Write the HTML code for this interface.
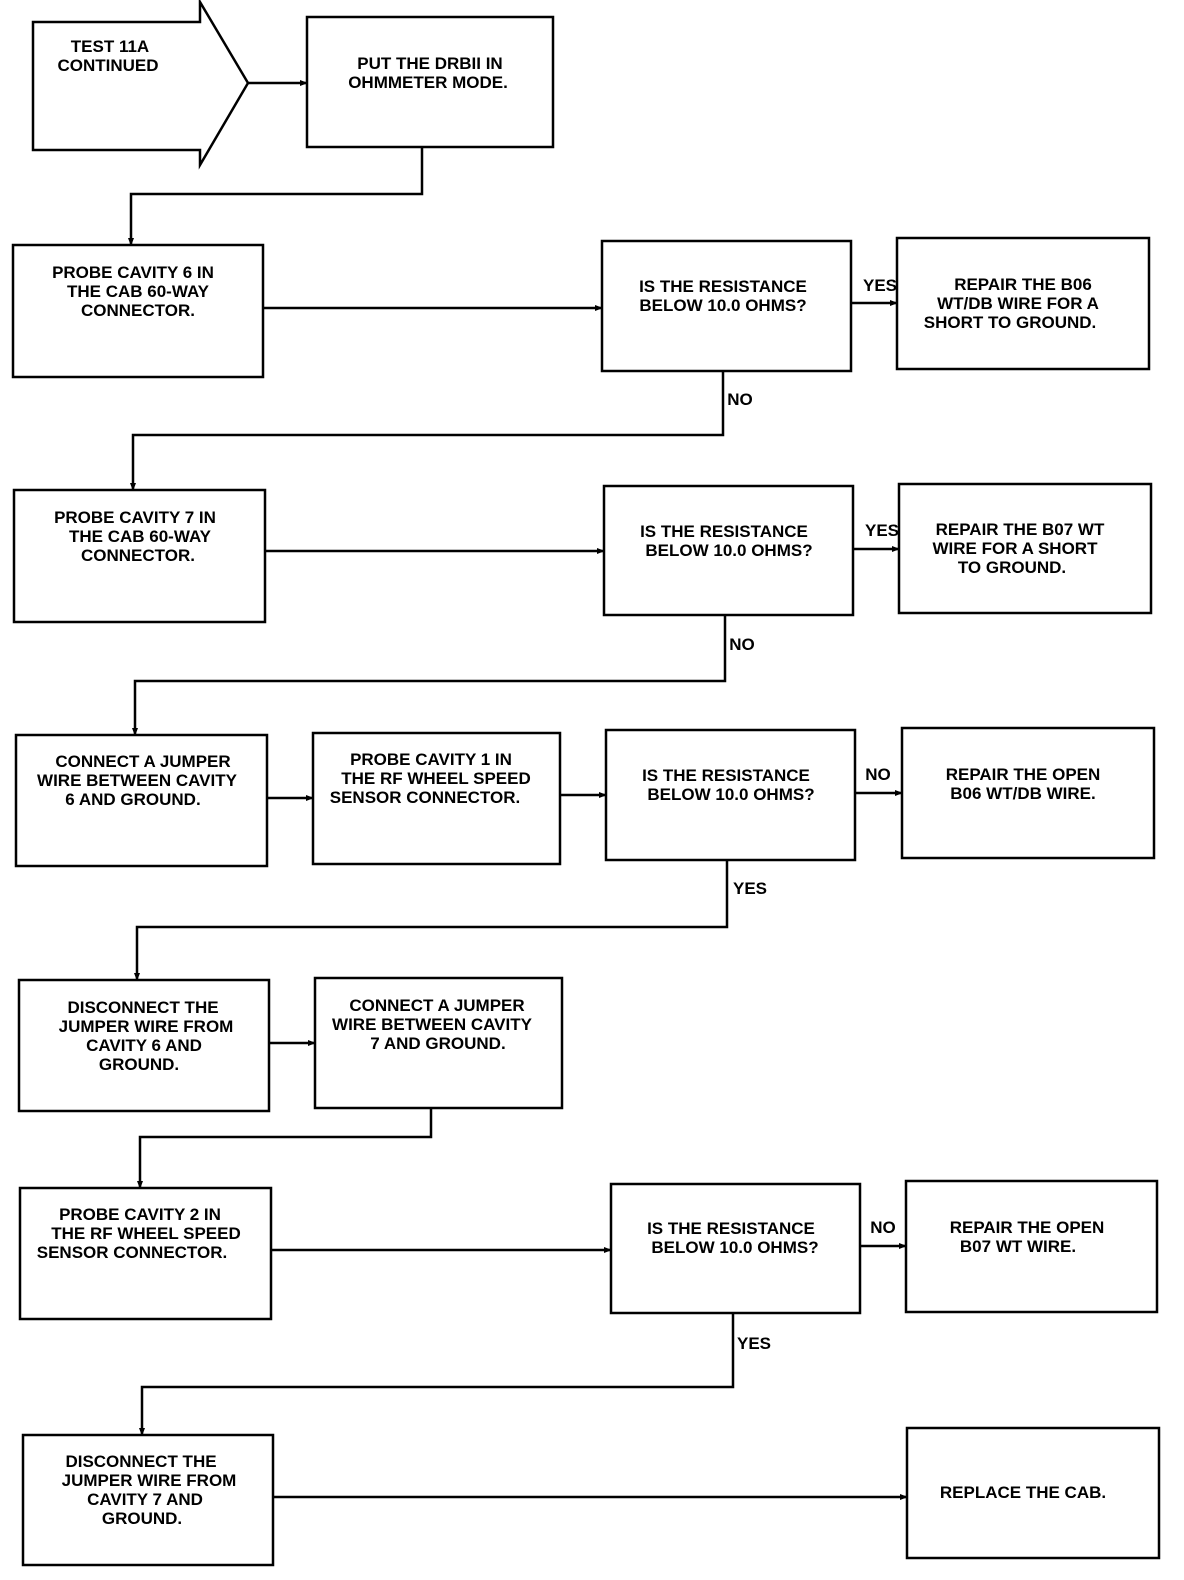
<!DOCTYPE html>
<html><head><meta charset="utf-8"><style>
html,body{margin:0;padding:0;background:#fff;}
svg{display:block;}
text{font-family:"Liberation Sans",sans-serif;font-weight:bold;font-size:17px;fill:#000;text-anchor:middle;}
.l{text-anchor:start;}
</style></head><body>
<svg width="1184" height="1580" viewBox="0 0 1184 1580" xmlns="http://www.w3.org/2000/svg">
<defs><marker id="a" markerWidth="8" markerHeight="8" refX="7" refY="4" orient="auto" markerUnits="userSpaceOnUse"><path d="M0,1 L8,4 L0,7 Z" fill="#000"/></marker></defs>
<g fill="none" stroke="#000" stroke-width="2.5">
<polygon points="33,22 200,22 200,2 248,83 200,165 200,150 33,150"/>
<rect x="307" y="17" width="246" height="130"/>
<rect x="13" y="245" width="250" height="132"/>
<rect x="602" y="241" width="249" height="130"/>
<rect x="897" y="238" width="252" height="131"/>
<rect x="14" y="490" width="251" height="132"/>
<rect x="604" y="486" width="249" height="129"/>
<rect x="899" y="484" width="252" height="129"/>
<rect x="16" y="735" width="251" height="131"/>
<rect x="313" y="733" width="247" height="131"/>
<rect x="606" y="730" width="249" height="130"/>
<rect x="902" y="728" width="252" height="130"/>
<rect x="19" y="980" width="250" height="131"/>
<rect x="315" y="978" width="247" height="130"/>
<rect x="20" y="1188" width="251" height="131"/>
<rect x="611" y="1184" width="249" height="129"/>
<rect x="906" y="1181" width="251" height="131"/>
<rect x="23" y="1435" width="250" height="130"/>
<rect x="907" y="1428" width="252" height="130"/>
<g marker-end="url(#a)">
<polyline points="248,83 307,83"/>
<polyline points="422,147 422,194 131,194 131,245"/>
<polyline points="263,308 602,308"/>
<polyline points="851,303 897,303"/>
<polyline points="723,371 723,435 133,435 133,490"/>
<polyline points="265,551 604,551"/>
<polyline points="853,549 899,549"/>
<polyline points="725,615 725,681 135,681 135,735"/>
<polyline points="267,798 313,798"/>
<polyline points="560,795 606,795"/>
<polyline points="855,793 902,793"/>
<polyline points="727,860 727,927 137,927 137,980"/>
<polyline points="269,1043 315,1043"/>
<polyline points="431,1108 431,1137 140,1137 140,1188"/>
<polyline points="271,1250 611,1250"/>
<polyline points="860,1246 906,1246"/>
<polyline points="733,1313 733,1387 142,1387 142,1435"/>
<polyline points="273,1497 907,1497"/>
</g></g>
<text x="110" y="52">TEST 11A</text><text x="108" y="71">CONTINUED</text>
<text x="430" y="69">PUT THE DRBII IN</text><text x="428" y="88">OHMMETER MODE.</text>
<text x="133" y="278">PROBE CAVITY 6 IN</text><text x="138" y="297">THE CAB 60-WAY</text><text x="138" y="316">CONNECTOR.</text>
<text x="723" y="292">IS THE RESISTANCE</text><text x="723" y="311">BELOW 10.0 OHMS?</text>
<text x="1023" y="290">REPAIR THE B06</text><text x="1018" y="309">WT/DB WIRE FOR A</text><text x="1010" y="328">SHORT TO GROUND.</text>
<text x="880" y="291">YES</text><text x="740" y="405">NO</text>
<text x="135" y="523">PROBE CAVITY 7 IN</text><text x="140" y="542">THE CAB 60-WAY</text><text x="138" y="561">CONNECTOR.</text>
<text x="724" y="537">IS THE RESISTANCE</text><text x="729" y="556">BELOW 10.0 OHMS?</text>
<text x="1020" y="535">REPAIR THE B07 WT</text><text x="1015" y="554">WIRE FOR A SHORT</text><text x="1012" y="573">TO GROUND.</text>
<text x="882" y="536">YES</text><text x="742" y="650">NO</text>
<text x="143" y="767">CONNECT A JUMPER</text><text x="137" y="786">WIRE BETWEEN CAVITY</text><text x="133" y="805">6 AND GROUND.</text>
<text x="431" y="765">PROBE CAVITY 1 IN</text><text x="436" y="784">THE RF WHEEL SPEED</text><text x="425" y="803">SENSOR CONNECTOR.</text>
<text x="726" y="781">IS THE RESISTANCE</text><text x="731" y="800">BELOW 10.0 OHMS?</text>
<text x="1023" y="780">REPAIR THE OPEN</text><text x="1023" y="799">B06 WT/DB WIRE.</text>
<text x="878" y="780">NO</text><text x="750" y="894">YES</text>
<text x="143" y="1013">DISCONNECT THE</text><text x="146" y="1032">JUMPER WIRE FROM</text><text x="144" y="1051">CAVITY 6 AND</text><text x="139" y="1070">GROUND.</text>
<text x="437" y="1011">CONNECT A JUMPER</text><text x="432" y="1030">WIRE BETWEEN CAVITY</text><text x="438" y="1049">7 AND GROUND.</text>
<text x="140" y="1220">PROBE CAVITY 2 IN</text><text x="146" y="1239">THE RF WHEEL SPEED</text><text x="132" y="1258">SENSOR CONNECTOR.</text>
<text x="731" y="1234">IS THE RESISTANCE</text><text x="735" y="1253">BELOW 10.0 OHMS?</text>
<text x="1027" y="1233">REPAIR THE OPEN</text><text x="1018" y="1252">B07 WT WIRE.</text>
<text x="883" y="1233">NO</text><text x="754" y="1349">YES</text>
<text x="141" y="1467">DISCONNECT THE</text><text x="149" y="1486">JUMPER WIRE FROM</text><text x="145" y="1505">CAVITY 7 AND</text><text x="142" y="1524">GROUND.</text>
<text x="1023" y="1498">REPLACE THE CAB.</text>
</svg>
</body></html>
